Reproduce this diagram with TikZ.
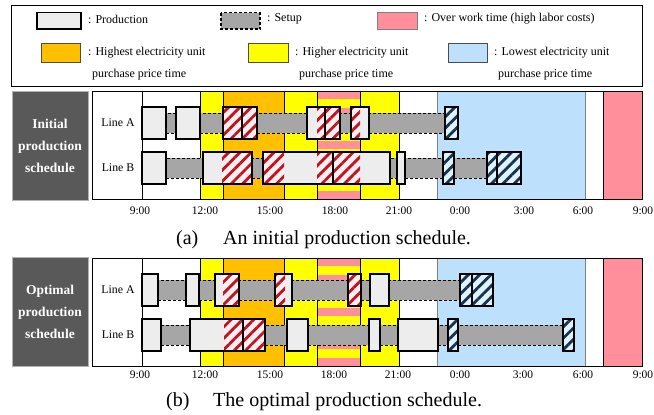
\documentclass[tikz,border=0pt]{standalone}
\usepackage{fontspec}
\setmainfont{Liberation Serif}
\usetikzlibrary{patterns.meta,positioning}
\definecolor{prodgray}{RGB}{237,237,237}
\definecolor{setupgray}{RGB}{166,166,166}
\definecolor{overpink}{RGB}{255,143,155}
\definecolor{peakorange}{RGB}{255,192,0}
\definecolor{midyellow}{RGB}{255,255,0}
\definecolor{lowblue}{RGB}{189,224,252}
\definecolor{labelgray}{RGB}{89,89,89}
\definecolor{hatchred}{RGB}{190,20,30}
\definecolor{hatchnavy}{RGB}{25,50,80}
\definecolor{hatchpinkbg}{RGB}{255,238,242}
\definecolor{hatchbluebg}{RGB}{222,243,252}
\tikzset{
  prodbox/.style={draw=black,line width=1.6pt,fill=prodgray},
  prodline/.style={draw=black,line width=1.6pt},
  setupbox/.style={draw=black,line width=0.8pt,fill=setupgray,dash pattern=on 3pt off 2pt},
  bandline/.style={draw=black,line width=0.5pt},
  redhatch/.style={fill=hatchpinkbg,postaction={pattern={Lines[angle=45,distance=8pt,line width=2.8pt]},pattern color=hatchred}},
  bluehatch/.style={fill=hatchbluebg,postaction={pattern={Lines[angle=45,distance=8pt,line width=2.8pt]},pattern color=hatchnavy}},
  legtext/.style={anchor=west,inner sep=0pt,font=\fontsize{12}{14}\selectfont},
  timelbl/.style={inner sep=0pt,font=\fontsize{11.5}{13}\selectfont},
  linelbl/.style={inner sep=0pt,font=\fontsize{11.8}{13}\selectfont},
  sidebox/.style={fill=labelgray,draw=gray!60,minimum width=76pt,minimum height=109pt,
                  inner sep=0pt,align=center,text=white,font=\fontsize{13.5}{22}\selectfont\bfseries},
  captext/.style={anchor=west,inner sep=0pt,font=\fontsize{20}{24}\selectfont},
}
% one line of the schedule: top y, setups, productions, red hatch, blue hatch
\newcommand{\schedrow}[5]{%
  \foreach \xa/\xb in {#2} \draw[setupbox] (\xa,#1+6) rectangle (\xb,#1+26);
  \foreach \xa/\xb in {#3} \fill[prodgray] (\xa,#1) rectangle (\xb,#1+32);
  \foreach \xa/\xb in {#4} \fill[redhatch] (\xa,#1) rectangle (\xb,#1+32);
  \foreach \xa/\xb in {#5} \fill[bluehatch] (\xa,#1) rectangle (\xb,#1+32);
  \foreach \xa/\xb in {#3} \draw[prodline] (\xa,#1) rectangle (\xb,#1+32);
}
\begin{document}
\begin{tikzpicture}[x=1pt,y=-1pt]
\useasboundingbox (0,0) rectangle (654,415);
% legend
\draw[line width=0.6pt] (11,5) rectangle (642,86);
\draw[prodbox] (37,12.5) rectangle (81,29);
\node[legtext] (lprod) at (88,19) {: Production};
\draw[setupbox,line width=1.4pt] (221,12.5) rectangle (260,29);
\node[legtext] (lsetup) at (267,19) {: Setup};
\draw[fill=overpink,draw=gray] (377,12.5) rectangle (417,29);
\node[legtext] (lover) at (424,19) {: Over work time (high labor costs)};
\draw[fill=peakorange,draw=black!70] (41,43) rectangle (80,62);
\node[legtext] (lhigh) at (88,53) {: Highest electricity unit};
\node[legtext] (lhigh2) at (92,75) {purchase price time};
\draw[fill=midyellow,draw=black!70] (248,43) rectangle (288,62);
\node[legtext] (lmid) at (295,53) {: Higher electricity unit};
\node[legtext] (lmid2) at (299,75) {purchase price time};
\draw[fill=lowblue,draw=black!70] (448,43) rectangle (487,62);
\node[legtext] (llow) at (494,53) {: Lowest electricity unit};
\node[legtext] (llow2) at (498,75) {purchase price time};

% price periods, same for both schedules
\foreach \dy in {0,167}{
  \begin{scope}[shift={(0,\dy)}]
    \fill[white] (92,91) rectangle (642,199);
    \fill[midyellow] (200,91) rectangle (399,199);
    \fill[peakorange] (223,91) rectangle (284,199);
    \foreach \k in {0,...,6}
      \fill[overpink] (317,91+\k*16.67) rectangle (360,99+\k*16.67);
    \foreach \xv in {142,200,223,284,317,360,399}
      \draw[bandline] (\xv,91) -- (\xv,199);
    \draw[fill=lowblue,draw=gray] (437,91) rectangle (585,199);
    \draw[fill=overpink,draw=black] (603,91) rectangle (642,199);
    \draw[line width=0.6pt] (92,91) rectangle (642,199);
  \end{scope}
}

% (a) initial schedule
\node[sidebox] (initlbl) at (50,145.5) {Initial\\production\\schedule};
\node[linelbl] (inita) at (118,123) {Line A};
\node[linelbl] (initb) at (118,168) {Line B};
\schedrow{107}{166/176,200/223,257/307,340/351,369/445}
  {142/166,176/200,223/242,242/257,307/325,325/340,351/369,445/458}
  {223/242,242/257,317/325,325/340,351/360}{445/458}
\schedrow{152}{166/203,252/263,390/397,405/443,454/487}
  {142/166,203/252,263/333,333/390,397/405,443/454,487/497,497/521}
  {222/252,263/284,317/333,333/360}{443/454,487/497,497/521}
\foreach \xv/\tm [count=\i] in {140/9:00,205/12:00,270/15:00,335/18:00,399/21:00,460/0:00,524/3:00,583/6:00,643/9:00}
  \node[timelbl] (ta\i) at (\xv,211) {\tm};
\node[captext] (capa) at (176,240) {(a)};
\node[captext] (capatext) at (223,240) {An initial production schedule.};

% (b) optimal schedule
\node[sidebox] (optlbl) at (50,312) {Optimal\\production\\schedule};
\node[linelbl] (opta) at (118,290) {Line A};
\node[linelbl] (optb) at (118,335) {Line B};
\schedrow{274}{158/186,199/215,239/275,292/348,361/370,389/460}
  {142/158,186/199,215/239,275/292,348/361,370/389,460/472,472/493}
  {223/239,275/285,348/360}{460/472,472/493}
\schedrow{319}{161/190,265/287,308/369,380/398,438/448,458/563}
  {142/161,190/243,243/265,287/308,369/380,398/438,448/458,563/574}
  {224/243,243/265}{448/458,563/574}
\foreach \xv/\tm [count=\i] in {140/9:00,205/12:00,270/15:00,334/18:00,398/21:00,460/0:00,523/3:00,583/6:00,643/9:00}
  \node[timelbl] (tb\i) at (\xv,375) {\tm};
\node[captext] (capb) at (166,402) {(b)};
\node[captext] (capbtext) at (213,402) {The optimal production schedule.};
\end{tikzpicture}
\end{document}
